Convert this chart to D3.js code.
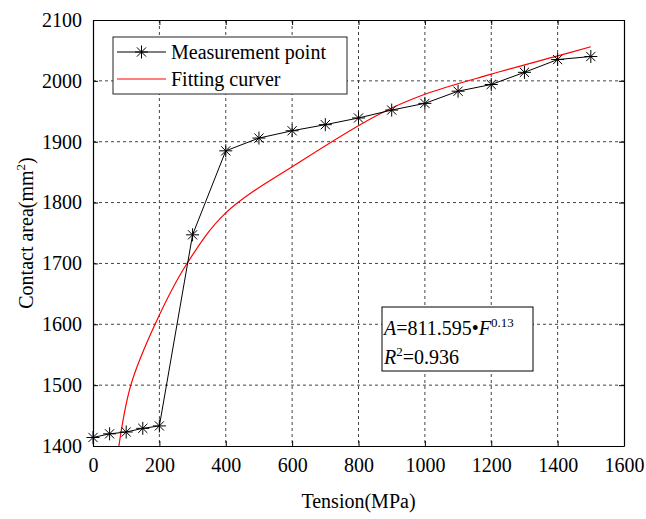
<!DOCTYPE html>
<html>
<head>
<meta charset="utf-8">
<script src="https://cdn.jsdelivr.net/npm/d3@7"></script>
<style>
    body { margin: 0; background: #fff; }
    svg text { font-family: "Liberation Serif", "DejaVu Serif", serif; fill: #000; }
</style>
</head>
<body>
<div id="chart"></div>
<script>
// measured points
const tension = [0, 50, 100, 150, 200, 300, 400, 500, 600, 700, 800, 900, 1000, 1100, 1200, 1300, 1400, 1500];
const area = [1414, 1420, 1423, 1429, 1433, 1747, 1885, 1906, 1918, 1928, 1939, 1952, 1963, 1983, 1994, 2014, 2035, 2040];

// fitting curve
const fitTension = [78, 114, 187, 280, 400, 624, 865, 1000, 1200, 1400, 1500];
const fitArea = [1400, 1500, 1600, 1697, 1783, 1867, 1946, 1978, 2011, 2041, 2056];

const xTicks = [0, 200, 400, 600, 800, 1000, 1200, 1400, 1600];
const yTicks = [1400, 1500, 1600, 1700, 1800, 1900, 2000, 2100];

const width = 646, height = 519;
const margin = { top: 20, right: 22, bottom: 73, left: 93 };
const w = width - margin.left - margin.right,
    h = height - margin.top - margin.bottom;
const fontsize = 20;
const serif = "Liberation Serif";

const svg = d3.select("#chart")
    .append("svg")
    .attr("width", width)
    .attr("height", height)
    .append("g")
    .attr("transform", `translate(${margin.left},${margin.top})`);

const x = d3.scaleLinear().domain([0, 1600]).range([0, w]);
const y = d3.scaleLinear().domain([1400, 2100]).range([h, 0]);

/* grid */
const grid = svg.append("g").attr("class", "grid")
    .attr("stroke", "#444")
    .attr("stroke-width", 1)
    .attr("stroke-dasharray", "3,3");
grid.selectAll(".gx")
    .data(xTicks.slice(1, -1))
    .enter().append("line")
    .attr("x1", d => x(d)).attr("x2", d => x(d))
    .attr("y1", 0).attr("y2", h);
grid.selectAll(".gy")
    .data(yTicks.slice(1, -1))
    .enter().append("line")
    .attr("x1", 0).attr("x2", w)
    .attr("y1", d => y(d)).attr("y2", d => y(d));

/* axes, ticks pointing inward */
const axisStyle = g => {
    g.attr("font-family", serif);
    g.select(".domain").attr("stroke", "#000").attr("stroke-width", 1.2);
    g.selectAll(".tick line").attr("stroke", "#000");
    g.selectAll("text").attr("font-size", fontsize);
};
svg.append("g")
    .attr("transform", `translate(0,${h})`)
    .call(d3.axisBottom(x).tickValues(xTicks).tickFormat(d3.format("d"))
        .tickSizeInner(-5).tickSizeOuter(0).tickPadding(12))
    .call(axisStyle);
svg.append("g")
    .call(d3.axisLeft(y).tickValues(yTicks).tickFormat(d3.format("d"))
        .tickSizeInner(-5).tickSizeOuter(0).tickPadding(11))
    .call(axisStyle);
svg.append("g")
    .call(d3.axisTop(x).tickValues(xTicks).tickSizeInner(-5).tickSizeOuter(0).tickFormat(""))
    .call(axisStyle);
svg.append("g")
    .attr("transform", `translate(${w},0)`)
    .call(d3.axisRight(y).tickValues(yTicks).tickSizeInner(-5).tickSizeOuter(0).tickFormat(""))
    .call(axisStyle);

/* axis titles */
svg.append("text")
    .attr("x", w / 2)
    .attr("y", h + 62)
    .attr("text-anchor", "middle")
    .attr("font-size", fontsize)
    .text("Tension(MPa)");
const yTitle = svg.append("text")
    .attr("transform", `translate(-60, ${h / 2}) rotate(-90)`)
    .attr("text-anchor", "middle")
    .attr("font-size", fontsize);
yTitle.append("tspan").text("Contact area(mm");
yTitle.append("tspan").attr("dy", -8).attr("font-size", 13).text("2");
yTitle.append("tspan").attr("dy", 8).text(")");

/* fitting curve */
const fitData = fitTension.map((t, i) => ({ t: t, a: fitArea[i] }));
svg.append("path")
    .datum(fitData)
    .attr("fill", "none")
    .attr("stroke", "#ff0000")
    .attr("stroke-width", 1.2)
    .attr("d", d3.line().x(d => x(d.t)).y(d => y(d.a)).curve(d3.curveCatmullRom.alpha(0.5)));

/* measured line + star markers */
const pts = tension.map((t, i) => ({ t: t, a: area[i] }));
svg.append("path")
    .datum(pts)
    .attr("fill", "none")
    .attr("stroke", "#000")
    .attr("stroke-width", 1)
    .attr("d", d3.line().x(d => x(d.t)).y(d => y(d.a)));

const star = "M-6.5,0H6.5M0,-6.5V6.5M-4.6,-4.6L4.6,4.6M-4.6,4.6L4.6,-4.6";
svg.append("g")
    .selectAll("path")
    .data(pts)
    .enter().append("path")
    .attr("transform", d => `translate(${x(d.t)},${y(d.a)})`)
    .attr("d", star)
    .attr("stroke", "#000")
    .attr("stroke-width", 1)
    .attr("fill", "none");

/* legend */
const legend = svg.append("g").attr("transform", "translate(20,17)");
legend.append("rect")
    .attr("width", 234).attr("height", 57)
    .attr("fill", "#fff").attr("stroke", "#222").attr("stroke-width", 1);
legend.append("line")
    .attr("x1", 4).attr("x2", 53).attr("y1", 15).attr("y2", 15)
    .attr("stroke", "#000");
legend.append("path")
    .attr("transform", "translate(28.5,15)")
    .attr("d", star).attr("stroke", "#000").attr("fill", "none");
legend.append("text")
    .attr("x", 58).attr("y", 22).attr("font-size", fontsize)
    .text("Measurement point");
legend.append("line")
    .attr("x1", 4).attr("x2", 53).attr("y1", 42).attr("y2", 42)
    .attr("stroke", "#ff0000").attr("stroke-width", 1.2);
legend.append("text")
    .attr("x", 58).attr("y", 49).attr("font-size", fontsize)
    .text("Fitting curver");

/* equation box */
const eq = svg.append("g").attr("transform", "translate(289,287)");
eq.append("rect")
    .attr("width", 151).attr("height", 64)
    .attr("fill", "#fff").attr("stroke", "#000").attr("stroke-width", 1);
const l1 = eq.append("text").attr("x", 2).attr("y", 28).attr("font-size", fontsize);
l1.append("tspan").attr("font-style", "italic").text("A");
l1.append("tspan").text("=811.595•");
l1.append("tspan").attr("font-style", "italic").text("F");
l1.append("tspan").attr("dy", -8).attr("font-size", 13).text("0.13");
const l2 = eq.append("text").attr("x", 2).attr("y", 57).attr("font-size", fontsize);
l2.append("tspan").attr("font-style", "italic").text("R");
l2.append("tspan").attr("dy", -8).attr("font-size", 13).text("2");
l2.append("tspan").attr("dy", 8).text("=0.936");
</script>
</body>
</html>
